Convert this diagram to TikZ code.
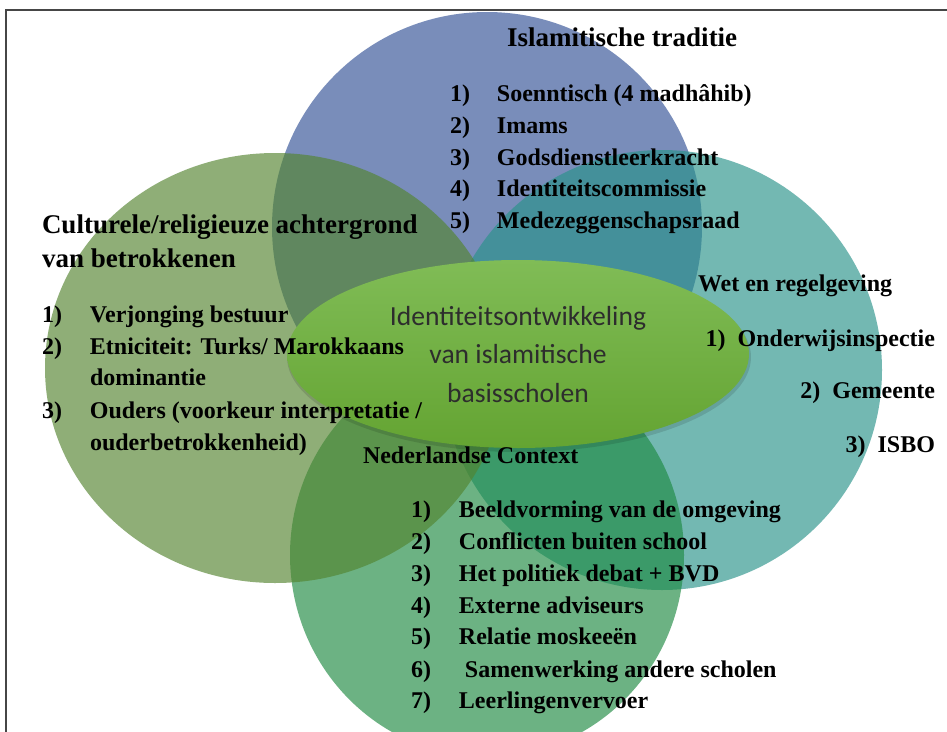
\documentclass[tikz,border=0pt]{standalone}
\usepackage{fontspec}
\setmainfont{Liberation Serif}
\newfontfamily\calib{Carlito}
\usetikzlibrary{shadows.blur}
\definecolor{blueC}{RGB}{50,81,150}
\definecolor{tealC}{RGB}{41,146,138}
\definecolor{greenC}{RGB}{30,138,66}
\definecolor{oliveC}{RGB}{83,132,47}
\definecolor{ctrTop}{RGB}{128,188,86}
\definecolor{ctrBot}{RGB}{100,164,50}
\definecolor{ctrText}{RGB}{45,45,45}
\definecolor{frameC}{RGB}{70,70,70}
\begin{document}
\begin{tikzpicture}[x=1pt,y=-1pt,
  venn/.style={fill opacity=0.65},
  head/.style={inner sep=0pt,outer sep=0pt,anchor=base west,font=\bfseries\fontsize{27}{30}\selectfont},
  item/.style={inner sep=0pt,outer sep=0pt,anchor=base west,font=\bfseries\fontsize{24}{28}\selectfont},
  itemr/.style={inner sep=0pt,outer sep=0pt,anchor=base east,font=\bfseries\fontsize{24}{28}\selectfont},
  ctr/.style={inner sep=0pt,outer sep=0pt,anchor=base,text=ctrText,font=\calib\fontsize{27.6}{30}\selectfont}]
\useasboundingbox (0,0) rectangle (947,731);
\clip (0,0) rectangle (947,731);
\fill[white] (0,0) rectangle (947,731);
% frame
\draw[frameC,line width=1.8pt] (6,10) rectangle (990,780);
% circles
\fill[blueC,venn] (487,227) ellipse [x radius=215pt,y radius=215pt];
\fill[tealC,venn] (662,370) ellipse [x radius=220pt,y radius=220pt];
\fill[greenC,venn] (487,555) ellipse [x radius=197pt,y radius=202pt];
\fill[oliveC,venn] (275,368) ellipse [x radius=230pt,y radius=215pt];
% centre
\fill[black,opacity=0.12] (519,357) ellipse [x radius=232pt,y radius=95pt];
\path[top color=ctrTop,bottom color=ctrBot]
  (518,354) ellipse [x radius=231pt,y radius=94pt];
\node[ctr] (c1) at (518,325) {Identiteitsontwikkeling};
\node[ctr] (c2) at (518,363) {van islamitische};
\node[ctr] (c3) at (518,402) {basisscholen};
% Islamitische traditie
\node[head] (it) at (507,46) {Islamitische traditie};
\node[item] (it1) at (450,101) {\makebox[47pt][l]{1)}Soenntisch (4 madhâhib)};
\node[item] (it2) at (450,133) {\makebox[47pt][l]{2)}Imams};
\node[item] (it3) at (450,165) {\makebox[47pt][l]{3)}Godsdienstleerkracht};
\node[item] (it4) at (450,196) {\makebox[47pt][l]{4)}Identiteitscommissie};
\node[item] (it5) at (450,228) {\makebox[47pt][l]{5)}Medezeggenschapsraad};
% Culturele
\node[head] (cu) at (42,233) {Culturele/religieuze achtergrond};
\node[head] (cub) at (42,267) {van betrokkenen};
\node[item] (cu1) at (42,322) {\makebox[48pt][l]{1)}Verjonging bestuur};
\node[item] (cu2) at (42,354) {\makebox[48pt][l]{2)}Etniciteit: Turks/ Marokkaans};
\node[item] (cu2b) at (90,385) {dominantie};
\node[item] (cu3) at (42,418) {\makebox[48pt][l]{3)}Ouders (voorkeur interpretatie /};
\node[item] (cu3b) at (90,450) {ouderbetrokkenheid)};
% Wet en regelgeving
\node[item] (wr) at (698,291) {Wet en regelgeving};
\node[itemr] (wr1) at (935,346) {1)\ \ Onderwijsinspectie};
\node[itemr] (wr2) at (935,398) {2)\ \ Gemeente};
\node[itemr] (wr3) at (935,452) {3)\ \ ISBO};
% Nederlandse Context
\node[item] (nc) at (363,463) {Nederlandse Context};
\node[item] (nc1) at (411,517) {\makebox[48pt][l]{1)}Beeldvorming van de omgeving};
\node[item] (nc2) at (411,549) {\makebox[48pt][l]{2)}Conflicten buiten school};
\node[item] (nc3) at (411,581) {\makebox[48pt][l]{3)}Het politiek debat + BVD};
\node[item] (nc4) at (411,613) {\makebox[48pt][l]{4)}Externe adviseurs};
\node[item] (nc5) at (411,644) {\makebox[48pt][l]{5)}Relatie moskeeën};
\node[item] (nc6) at (411,677) {\makebox[48pt][l]{6)}\hspace{6pt}Samenwerking andere scholen};
\node[item] (nc7) at (411,708) {\makebox[48pt][l]{7)}Leerlingenvervoer};
\end{tikzpicture}
\end{document}
